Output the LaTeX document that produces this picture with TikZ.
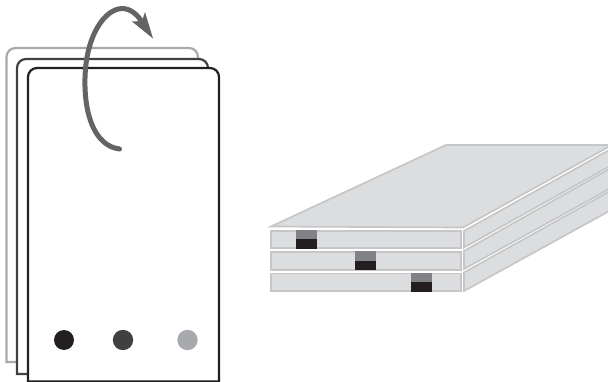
\documentclass[tikz,border=0pt]{standalone}
\usetikzlibrary{arrows.meta}
\definecolor{inkk}{HTML}{231F20}
\definecolor{midk}{HTML}{404041}
\definecolor{ligk}{HTML}{A7A9AC}
\definecolor{arrk}{HTML}{636466}
\definecolor{edgek}{HTML}{C4C6C8}
\definecolor{facek}{HTML}{DCDDDE}
\definecolor{markk}{HTML}{808285}
\tikzset{
  card/.style={fill=white,line width=2.2pt,line join=miter},
  slab/.style={fill=facek,draw=edgek,line width=1.7pt,line join=miter},
}
\begin{document}
\begin{tikzpicture}[x=1pt,y=-1pt]
\useasboundingbox (0,0) rectangle (608,382);
\fill[white] (0,0) rectangle (608,382);
% cards
\draw[card,draw=ligk] (6.5,362) [rounded corners=9pt] -- (6.5,48) -- (198,48) [sharp corners] -- (198,70) -- (198,362) -- cycle;
\draw[card,draw=midk] (17,374) [rounded corners=9pt] -- (17,59) -- (208,59) [sharp corners] -- (208,80) -- (208,374) -- cycle;
\begin{scope}
\clip (0,0) rectangle (608,382);
\draw[card,draw=inkk] (28,381.5) [rounded corners=9pt] -- (28,68) -- (219,68) [sharp corners] -- (219,90) -- (219,381.5) -- cycle;
\end{scope}
\fill[inkk] (64,340) circle (10);
\fill[midk] (123,340) circle (10.2);
\fill[ligk] (187.5,340) circle (10.2);
% rotation arrow
\draw[arrk,line width=5pt,line cap=round] (119.5,149) .. controls (95,146) and (84,115) .. (85,78) .. controls (86,35) and (105,9) .. (122,8.5) .. controls (130,8.5) and (137,14) .. (142,22);
\fill[arrk] (153,38.5) -- (145,12) -- (142,21) -- (132,21.5) -- cycle;
% stacked slabs, right faces
\clip (0,0) rectangle (608,382);
\draw[slab] (464,272.5) -- (612,190) -- (612,209.5) -- (464,291) -- cycle;
\draw[slab] (464,251) -- (612,167.5) -- (612,187.5) -- (464,269) -- cycle;
\draw[slab] (464,231) -- (612,148.5) -- (612,165) -- (464,247.5) -- cycle;
% top face
\draw[slab] (271,226.5) -- (446,145) -- (612,145) -- (463,227.5) -- cycle;
% front faces
\draw[slab] (271,231) rectangle (461,248);
\draw[slab] (271,252) rectangle (461,270);
\draw[slab] (271,273.5) rectangle (461,291);
% marks
\fill[markk] (296,230) rectangle (317,239.5);
\fill[inkk] (296,239.5) rectangle (317,249);
\fill[markk] (355,251.5) rectangle (376,261);
\fill[inkk] (355,261) rectangle (376,270.5);
\fill[markk] (411,273) rectangle (432,282.5);
\fill[inkk] (411,282.5) rectangle (432,292);
\end{tikzpicture}
\end{document}
